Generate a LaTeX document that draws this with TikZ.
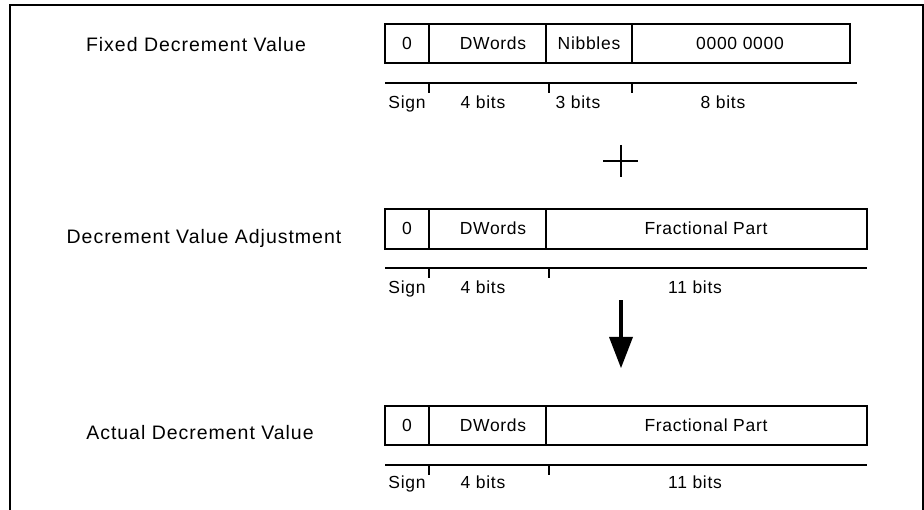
\documentclass[tikz,border=0pt]{standalone}
\usepackage{fontspec}
\setmainfont{Liberation Sans}
\newfontfamily\lblfont[LetterSpace=5]{Liberation Sans}
\newfontfamily\boxfont[LetterSpace=4]{Liberation Sans}
\begin{document}
\begin{tikzpicture}[x=1pt,y=-1pt,
  rowlbl/.style={anchor=base,inner sep=0pt,font=\lblfont\fontsize{19.5}{22}\selectfont},
  fld/.style={anchor=base,inner sep=0pt,font=\boxfont\fontsize{17.5}{20}\selectfont},
  boxline/.style={line width=1.3pt},
  rulerline/.style={line width=1.3pt},
  frameline/.style={line width=2pt}]
\useasboundingbox (0,0) rectangle (924,510);
% frame
\draw[frameline] (10,510) -- (10,5) -- (923,5) -- (923,510);
% ---- row 1
\draw[boxline] (385,24) rectangle (850,63);
\draw[boxline] (429,24) -- (429,63) (546,24) -- (546,63) (632,24) -- (632,63);
\draw[rulerline] (385,83) -- (857,83);
\draw[rulerline] (429,83) -- (429,93) (549,83) -- (549,93) (632,83) -- (632,93);
\node[rowlbl] (l1) at (196,51.5) {Fixed Decrement Value};
\node[fld] (a1) at (407,49.3) {0};
\node[fld] (b1) at (493,49.3) {DWords};
\node[fld] (c1) at (589,49.3) {Nibbles};
\node[fld] (d1) at (740,49.3) {0000 0000};
\node[fld] (s1) at (407,108.3) {Sign};
\node[fld] (e1) at (483,108.3) {4 bits};
\node[fld] (f1) at (578,108.3) {3 bits};
\node[fld] (g1) at (723,108.3) {8 bits};
% plus
\draw[line width=1.3pt] (603,161) -- (638,161) (621,145) -- (621,177);
% ---- row 2
\draw[boxline] (385,209) rectangle (867,249);
\draw[boxline] (429,209) -- (429,249) (546,209) -- (546,249);
\draw[rulerline] (385,268) -- (867,268);
\draw[rulerline] (429,268) -- (429,278) (549,268) -- (549,278);
\node[rowlbl] (l2) at (204,243.3) {Decrement Value Adjustment};
\node[fld] (a2) at (407,235) {0};
\node[fld] (b2) at (493,235) {DWords};
\node[fld] (c2) at (706,235) {Fractional Part};
\node[fld] (s2) at (407,293.3) {Sign};
\node[fld] (e2) at (483,293.3) {4 bits};
\node[fld] (f2) at (695,293.3) {11 bits};
% arrow
\fill (619,300) rectangle (623,338);
\fill (609,337) -- (633,337) -- (621,368) -- cycle;
% ---- row 3
\draw[boxline] (385,406) rectangle (867,445);
\draw[boxline] (429,406) -- (429,445) (546,406) -- (546,445);
\draw[rulerline] (385,465) -- (867,465);
\draw[rulerline] (429,465) -- (429,475) (549,465) -- (549,475);
\node[rowlbl] (l3) at (200,440) {Actual Decrement Value};
\node[fld] (a3) at (407,431.7) {0};
\node[fld] (b3) at (493,431.7) {DWords};
\node[fld] (c3) at (706,431.7) {Fractional Part};
\node[fld] (s3) at (407,488) {Sign};
\node[fld] (e3) at (483,488) {4 bits};
\node[fld] (f3) at (695,488) {11 bits};
\end{tikzpicture}
\end{document}
